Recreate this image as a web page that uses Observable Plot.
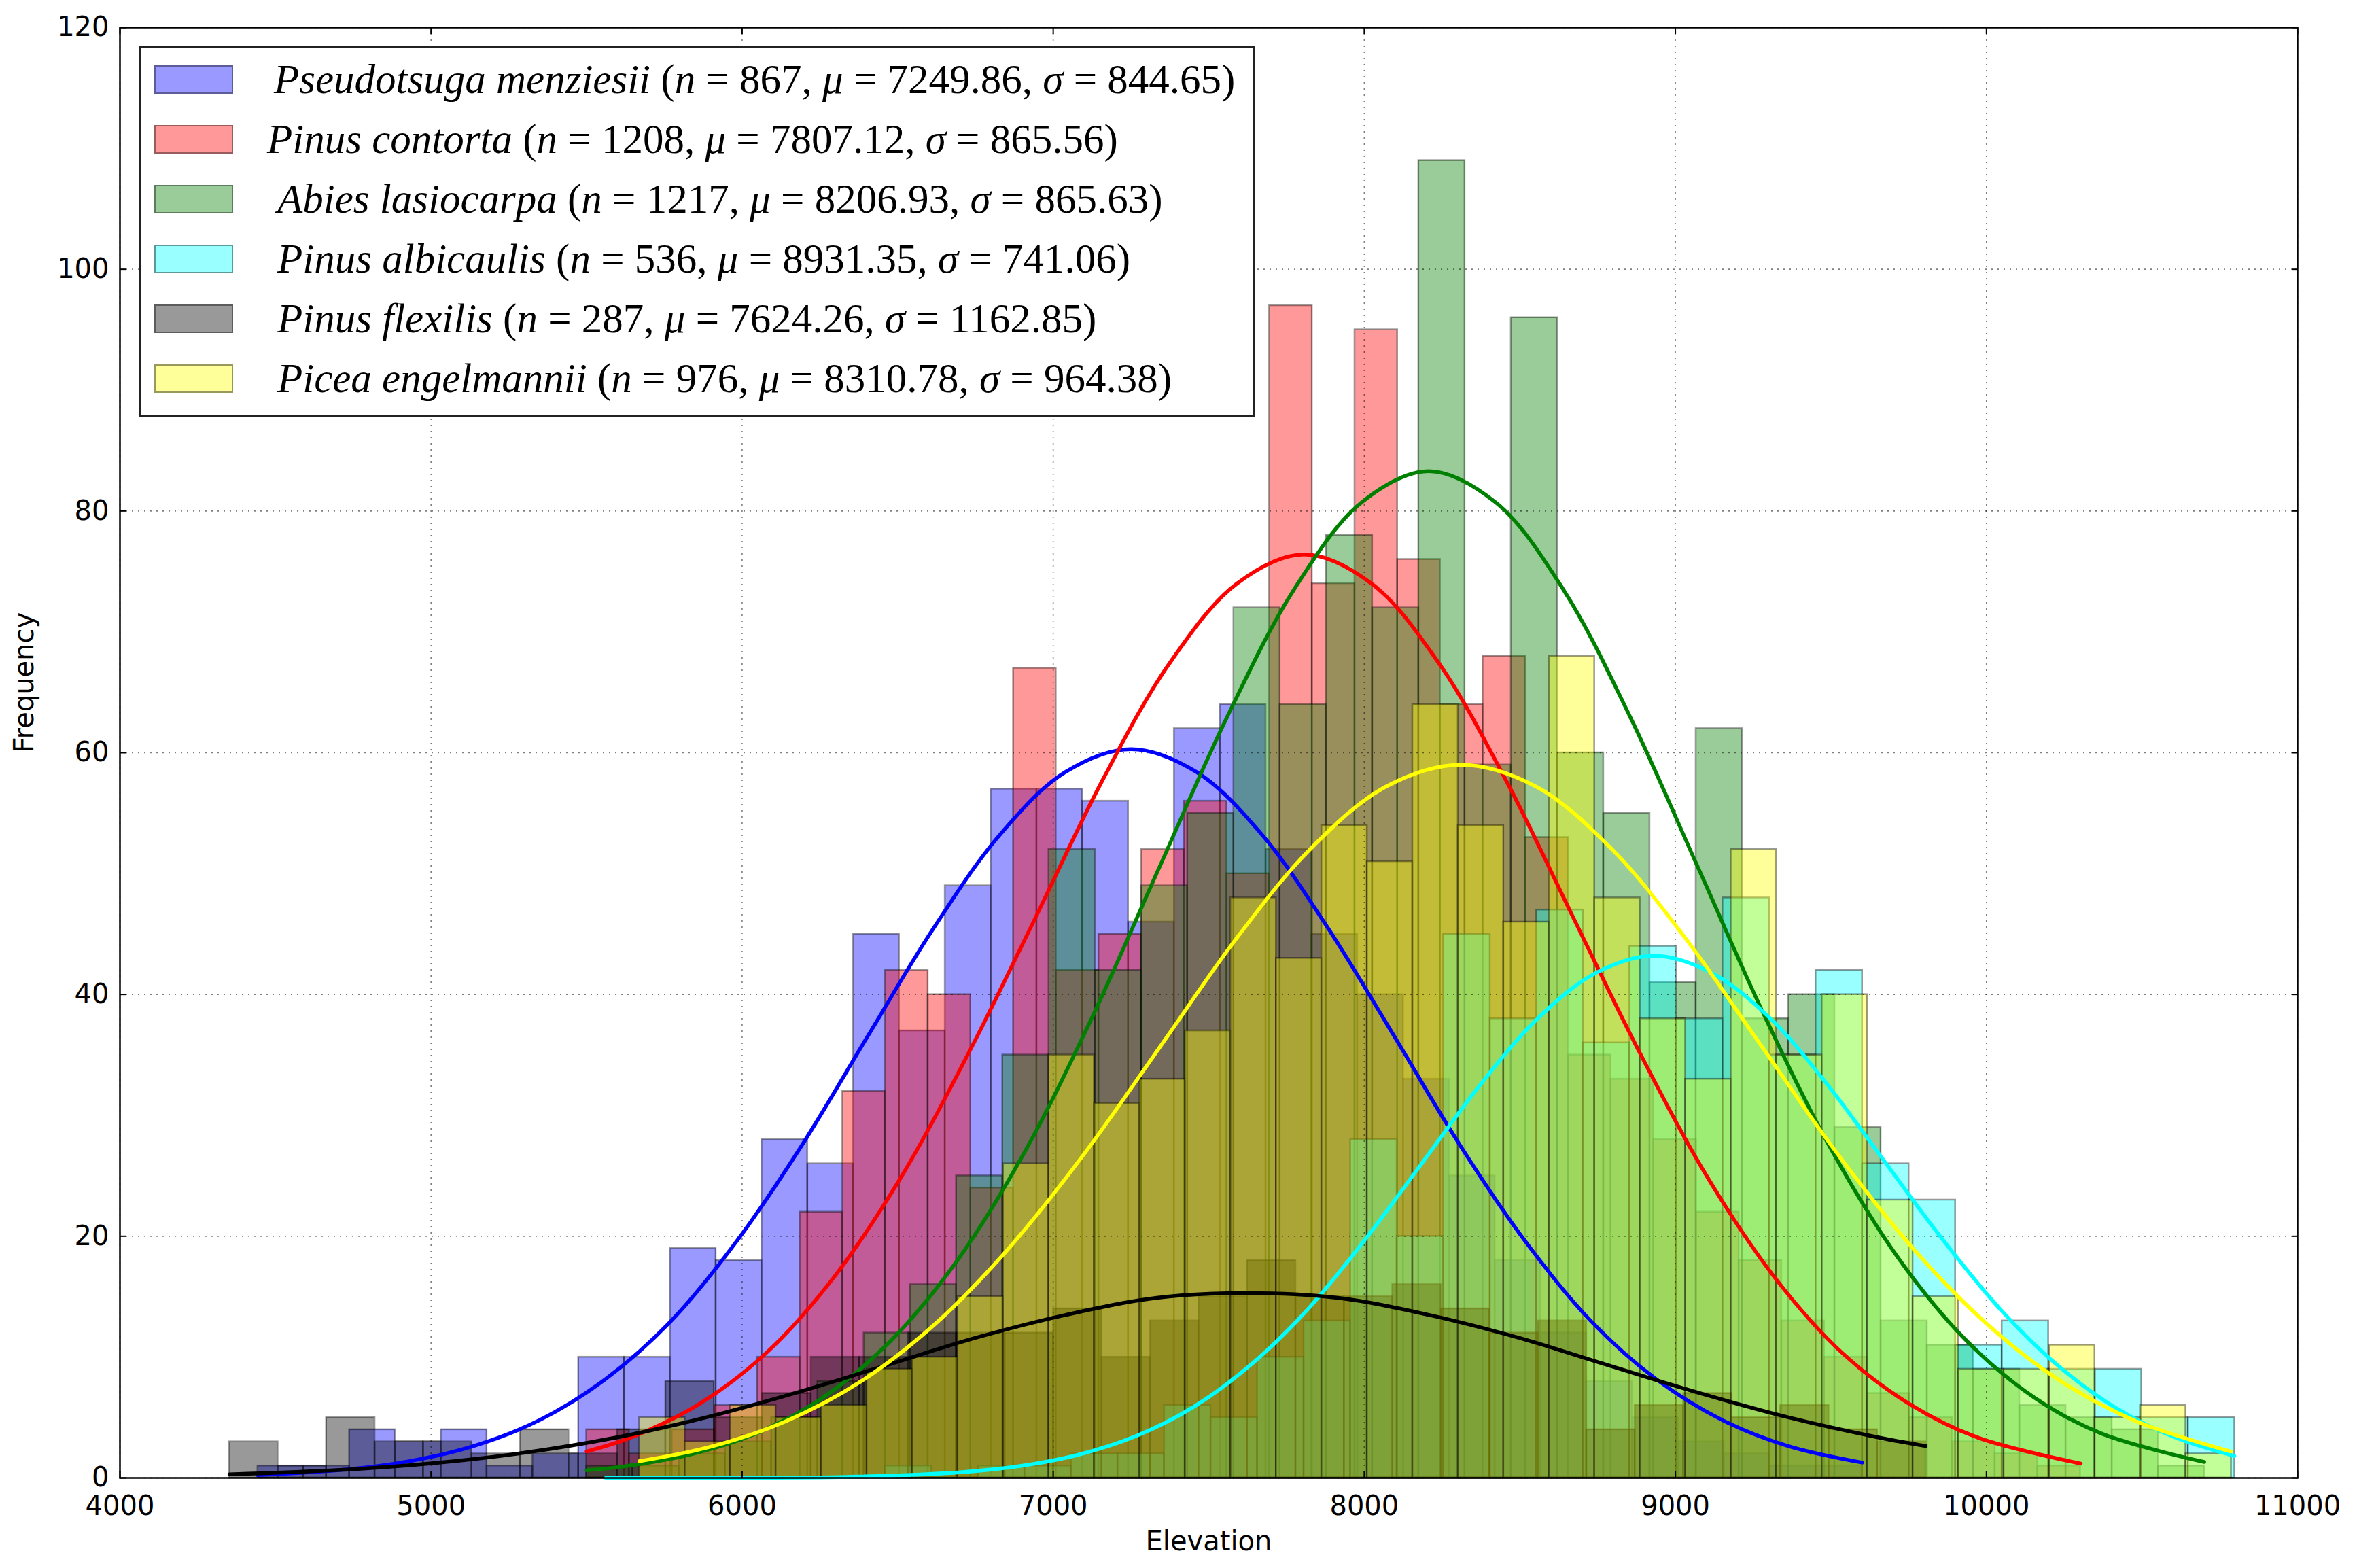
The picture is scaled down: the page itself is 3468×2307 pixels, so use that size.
<!DOCTYPE html>
<html>
<head>
<meta charset="utf-8">
<script src="https://cdn.jsdelivr.net/npm/d3@7"></script>
<script src="https://cdn.jsdelivr.net/npm/@observablehq/plot@0.6"></script>
<style>
  html, body { margin: 0; padding: 0; background: #fff; }
  #wrap { position: relative; width: 3468px; height: 2307px; }
  #legend { position: absolute; left: 204px; top: 68px; width: 1643px; height: 546px;
            border: 3px solid #222; background: #fff; box-sizing: border-box; }
  .patch { position: absolute; left: 20px; width: 116px; height: 42px; box-sizing: border-box;
           border: 2.5px solid rgba(0,0,0,0.4); }
  .lbl { position: absolute; left: 196px; white-space: nowrap; font-family: "Liberation Serif", serif;
         font-size: 61px; color: #000; line-height: 64px; }
  .lbl i { font-style: italic; }
</style>
</head>
<body>
<div id="wrap"><div id="legend"></div></div>
<script>
// ---- data ----
const species = ["Pseudotsuga menziesii", "Pinus contorta", "Abies lasiocarpa", "Pinus albicaulis", "Pinus flexilis", "Picea engelmannii"];
const sampleN = [867, 1208, 1217, 536, 287, 976];
const sampleMu = ["7249.86", "7807.12", "8206.93", "8931.35", "7624.26", "8310.78"];
const sampleSigma = ["844.65", "865.56", "865.63", "741.06", "1162.85", "964.38"];

// histogram bins: 35 bins per species, starting at binMin with width binWidth
const binMin = [4443, 5500, 5500, 5562, 4352, 5670];
const binWidth = [147.3, 137.2, 148.6, 149.6, 155.8, 146.2];

const countsPseudotsuga = [1,1,4,3,4,1,2,10,10,19, 18,28,26,45,37,49,57,57,56,46, 62,64,52,45,40,33,25,18,12,8, 5,3,2,1,1];
const countsContorta    = [4,2,4,6,10,22,32,42,40,24, 67,42,45,52,56,50,97,74,95,76, 64,68,53,35,33,28,22,18,13,10, 7,5,3,2,1];
const countsLasiocarpa  = [1,1,2,3,5,8,12,16,25,35, 52,42,49,55,72,64,78,72,109,59, 96,60,55,41,62,38,40,29,13,11, 9,6,5,4,1];
const countsAlbicaulis  = [0,0,0,0,0,0,1,0,1,1, 2,2,6,5,10,13,28,20,45,38, 47,36,44,38,48,35,42,26,23,11, 13,9,9,5,5];
const countsFlexilis    = [3,1,5,3,3,2,4,2,4,8, 5,7,10,10,12,12,12,14,10,13, 15,18,15,15,16,14,12,13,4,6, 7,5,6,4,3];
const countsEngelmannii = [5,3,6,5,6,9,10,15,26,35, 31,33,37,48,43,54,51,64,54,46, 68,48,38,33,52,35,40,23,15,9, 9,11,5,6,2];

// fitted-curve points (elevation, frequency)
const curvePseudotsugaX = [4443,4715,4927,5138,5350,5560,5772,5983,6194,6405,6616,6828,7039,7250,7461,7672,7883,8095,8306,8517,8728,8939,9150,9361,9600];
const curvePseudotsugaY = [0.24,0.67,1.37,2.65,4.8,8.16,13.0,19.6,27.6,36.6,45.5,53.2,58.4,60.3,58.4,53.2,45.5,36.6,27.6,19.6,13.0,8.16,4.8,2.65,1.27];
const curveContortaX = [5500,5643,5860,6076,6292,6509,6725,6942,7158,7374,7591,7807,8023,8240,8456,8673,8889,9105,9322,9538,9755,9971,10303];
const curveContortaY = [2.19,3.35,6.08,10.3,16.5,24.8,35.0,46.3,57.7,67.4,74.0,76.4,74.0,67.4,57.7,46.3,35.0,24.8,16.5,10.3,6.08,3.35,1.19];
const curveLasiocarpaX = [5500,5610,5826,6043,6259,6476,6692,6909,7125,7341,7558,7774,7991,8207,8423,8640,8856,9073,9289,9505,9722,9938,10155,10371,10700];
const curveLasiocarpaY = [0.63,0.92,1.90,3.66,6.63,11.3,18.0,27.0,38.1,50.5,62.9,73.5,80.7,83.3,80.7,73.5,62.9,50.5,38.1,27.0,18.0,11.3,6.63,3.66,1.32];
const curveAlbicaulisX = [5562,5967,6337,6708,6893,7078,7264,7449,7634,7820,8005,8190,8375,8561,8746,8931,9116,9302,9487,9672,9857,10043,10228,10413,10598,10797];
const curveAlbicaulisY = [0.0,0.01,0.09,0.48,0.98,1.90,3.44,5.84,9.34,14.0,19.8,26.2,32.6,38.1,41.8,43.2,41.8,38.1,32.6,26.2,19.8,14.0,9.34,5.84,3.44,1.81];
const curveFlexilisX = [4352,4717,5008,5298,5589,5880,6170,6461,6752,7043,7333,7624,7915,8205,8496,8787,9078,9368,9659,9805];
const curveFlexilisY = [0.29,0.67,1.22,2.08,3.32,4.98,7.02,9.30,11.6,13.5,14.9,15.3,14.9,13.5,11.6,9.30,7.02,4.98,3.32,2.64];
const curveEngelmanniiX = [5670,5900,6141,6382,6623,6864,7105,7347,7588,7829,8070,8311,8552,8793,9034,9275,9516,9757,9999,10240,10481,10786];
const curveEngelmanniiY = [1.39,2.59,4.70,7.99,12.8,19.2,27.0,35.8,44.6,52.1,57.2,59.0,57.2,52.1,44.6,35.8,27.0,19.2,12.8,7.99,4.70,2.19];

const xTicks = [4000, 5000, 6000, 7000, 8000, 9000, 10000, 11000];
const yTicks = [0, 20, 40, 60, 80, 100, 120];

// ---- styling ----
const colors = ["#0000ff", "#ff0000", "#008000", "#00ffff", "#000000", "#ffff00"];
const allCounts = [countsPseudotsuga, countsContorta, countsLasiocarpa, countsAlbicaulis, countsFlexilis, countsEngelmannii];
const curvesX = [curvePseudotsugaX, curveContortaX, curveLasiocarpaX, curveAlbicaulisX, curveFlexilisX, curveEngelmanniiX];
const curvesY = [curvePseudotsugaY, curveContortaY, curveLasiocarpaY, curveAlbicaulisY, curveFlexilisY, curveEngelmanniiY];

const barMarks = allCounts.map((counts, s) => {
  const rows = counts.map((c, i) => ({
    x1: binMin[s] + i * binWidth[s],
    x2: binMin[s] + (i + 1) * binWidth[s],
    y: c
  }));
  return Plot.rectY(rows, {
    x1: "x1", x2: "x2", y: "y",
    fill: colors[s], fillOpacity: 0.4,
    stroke: "#000", strokeOpacity: 0.4, strokeWidth: 2.5
  });
});

const curveMarks = curvesX.map((xs, s) => {
  const pts = xs.map((x, i) => ({x, y: curvesY[s][i]}));
  return Plot.line(pts, {x: "x", y: "y", stroke: colors[s], strokeWidth: 5.5, curve: "catmull-rom"});
});

const gridStyle = {stroke: "#000", strokeOpacity: 0.5, strokeWidth: 1.6, strokeDasharray: "2,7"};
const blank = () => "";

const chart = Plot.plot({
  width: 3468,
  height: 2307,
  marginLeft: 176,
  marginRight: 88,
  marginTop: 40,
  marginBottom: 133,
  x: {domain: [4000, 11000]},
  y: {domain: [0, 120]},
  style: {fontFamily: "'DejaVu Sans', sans-serif", fontSize: "40px", background: "#fff", color: "#000"},
  marks: [
    ...barMarks,
    Plot.gridX(xTicks, gridStyle),
    Plot.gridY(yTicks, gridStyle),
    ...curveMarks,
    Plot.frame({stroke: "#000", strokeWidth: 2.5}),
    Plot.axisX(xTicks, {anchor: "bottom", tickSize: 0, tickPadding: 26, label: null, tickFormat: d => String(d)}),
    Plot.axisX(xTicks, {anchor: "bottom", tickSize: 9, dy: -9, strokeWidth: 2, tickFormat: blank, label: null}),
    Plot.axisX(xTicks, {anchor: "top", tickSize: 9, dy: 9, strokeWidth: 2, tickFormat: blank, label: null}),
    Plot.axisY(yTicks, {anchor: "left", tickSize: 0, tickPadding: 16, label: null, tickFormat: d => String(d)}),
    Plot.axisY(yTicks, {anchor: "left", tickSize: 9, dx: 9, strokeWidth: 2, tickFormat: blank, label: null}),
    Plot.axisY(yTicks, {anchor: "right", tickSize: 9, dx: -9, strokeWidth: 2, tickFormat: blank, label: null}),
    Plot.text(["Elevation"], {frameAnchor: "bottom", dy: 106, fontSize: 40}),
    Plot.text(["Frequency"], {frameAnchor: "left", dx: -140, rotate: -90, fontSize: 40})
  ]
});

const wrap = document.getElementById("wrap");
wrap.prepend(chart);

// legend
const legend = document.getElementById("legend");
const labelLeft = [196, 186, 201, 201, 201, 201];
species.forEach((name, s) => {
  const cy = 46 + 88 * s;
  const patch = document.createElement("div");
  patch.className = "patch";
  patch.style.top = (cy - 21) + "px";
  patch.style.background = d3.color(colors[s]).copy({opacity: 0.4}).formatRgb();
  legend.appendChild(patch);
  const lbl = document.createElement("div");
  lbl.className = "lbl";
  lbl.style.top = (cy - 32) + "px";
  lbl.style.left = labelLeft[s] + "px";
  lbl.innerHTML = `<i>${name}</i> (<i>n</i> = ${sampleN[s]}, <i>μ</i> = ${sampleMu[s]}, <i>σ</i> = ${sampleSigma[s]})`;
  legend.appendChild(lbl);
});
</script>
</body>
</html>
